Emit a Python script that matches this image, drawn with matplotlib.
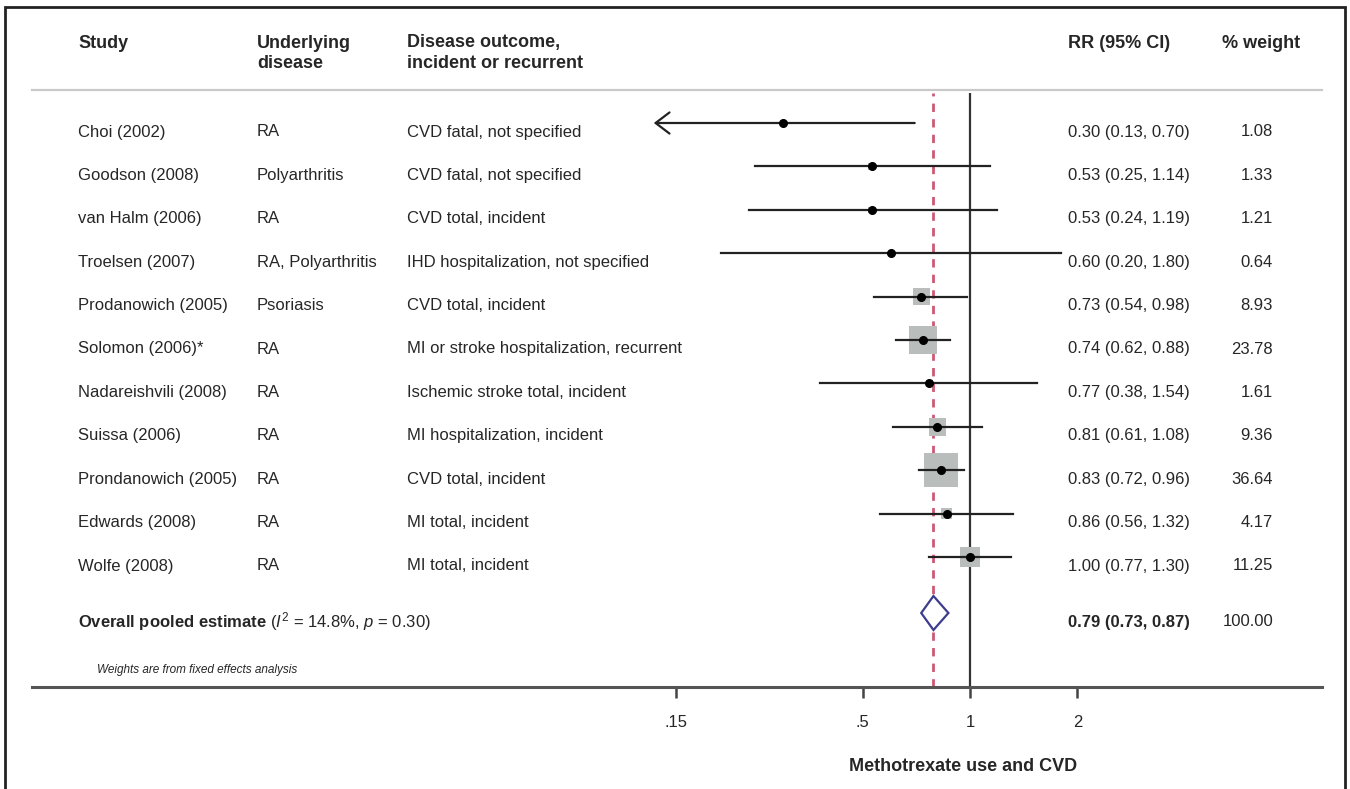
import numpy as np
import matplotlib
matplotlib.use("Agg")
import matplotlib.pyplot as plt
import matplotlib.transforms as mtrans
from matplotlib.patches import Rectangle

plt.rcParams['font.family'] = ['Liberation Sans', 'DejaVu Sans']
plt.rcParams['mathtext.fontset'] = 'custom'
plt.rcParams['mathtext.rm'] = 'Liberation Sans'
plt.rcParams['mathtext.it'] = 'Liberation Sans:italic'
plt.rcParams['mathtext.bf'] = 'Liberation Sans:bold'

# data
studies = ['Choi (2002)', 'Goodson (2008)', 'van Halm (2006)', 'Troelsen (2007)',
           'Prodanowich (2005)', 'Solomon (2006)*', 'Nadareishvili (2008)', 'Suissa (2006)',
           'Prondanowich (2005)', 'Edwards (2008)', 'Wolfe (2008)']
disease = ['RA', 'Polyarthritis', 'RA', 'RA, Polyarthritis', 'Psoriasis', 'RA', 'RA',
           'RA', 'RA', 'RA', 'RA']
outcome = ['CVD fatal, not specified', 'CVD fatal, not specified', 'CVD total, incident',
           'IHD hospitalization, not specified', 'CVD total, incident',
           'MI or stroke hospitalization, recurrent', 'Ischemic stroke total, incident',
           'MI hospitalization, incident', 'CVD total, incident', 'MI total, incident',
           'MI total, incident']
rr = np.array([0.30, 0.53, 0.53, 0.60, 0.73, 0.74, 0.77, 0.81, 0.83, 0.86, 1.00])
lo = np.array([0.13, 0.25, 0.24, 0.20, 0.54, 0.62, 0.38, 0.61, 0.72, 0.56, 0.77])
hi = np.array([0.70, 1.14, 1.19, 1.80, 0.98, 0.88, 1.54, 1.08, 0.96, 1.32, 1.30])
weight = np.array([1.08, 1.33, 1.21, 0.64, 8.93, 23.78, 1.61, 9.36, 36.64, 4.17, 11.25])

pooled = 0.79
pooled_lo = 0.73
pooled_hi = 0.87

xticks = [0.15, 0.5, 1, 2]
xticklabels = ['.15', '.5', '1', '2']
x_min = 0.14  # lower end of the plotted CI range, shown with an arrow

W, H = 1350, 789
fig = plt.figure(figsize=(W / 100, H / 100), dpi=100)

def fx(px):
    return px / W

def fy(py):
    return 1 - py / H

row_px = 43.4
first_px = 123
ax = fig.add_axes([fx(32), fy(687), fx(1322) - fx(32), (687 - 93) / H])
ax.set_xscale('log')
ln_left = (32 - 970) / 155.0
ln_right = (1322 - 970) / 155.0
ax.set_xlim(np.exp(ln_left), np.exp(ln_right))
ax.set_ylim((687 - first_px) / row_px, (93 - first_px) / row_px)

txt = '#262626'
rows = np.arange(len(studies))
pool_y = (613 - first_px) / row_px

# reference lines
ax.axvline(1, color='#333333', lw=1.6, zorder=1)
ax.axvline(pooled, color='#cc5a74', lw=2.0, ls=(0, (3, 2.6)), zorder=1)

# weight squares
side_pt = 5.7 * np.sqrt(weight) * 0.72
ax.scatter(rr, rows, s=side_pt ** 2, marker='s', color='#b9bebc', edgecolor='none', zorder=2)

# CIs
for i in rows:
    if lo[i] < x_min:
        ax.annotate('', xy=(lo[i], i), xytext=(hi[i], i),
                    arrowprops=dict(arrowstyle='->,head_length=0.5,head_width=0.38',
                                    lw=1.6, color='#222222', mutation_scale=20,
                                    shrinkA=0, shrinkB=0), zorder=3)
    else:
        ax.plot([lo[i], hi[i]], [i, i], color='#222222', lw=1.6, zorder=3)
ax.plot(rr, rows, 'o', color='black', ms=5.5, zorder=4)

# pooled diamond
dh = 17 / row_px
ax.fill([pooled_lo, pooled, pooled_hi, pooled], [pool_y, pool_y - dh, pool_y, pool_y + dh],
        facecolor='white', edgecolor='#3d3d8f', lw=1.6, zorder=4)

# axis styling
for s in ['top', 'left', 'right']:
    ax.spines[s].set_visible(False)
ax.spines['bottom'].set_color('#555555')
ax.spines['bottom'].set_linewidth(2.2)
ax.set_yticks([])
ax.set_xticks(xticks)
ax.set_xticklabels(xticklabels)
ax.xaxis.set_minor_locator(matplotlib.ticker.NullLocator())
ax.tick_params(axis='x', length=8, width=1.8, color='#444444', labelsize=12,
               labelcolor=txt, pad=12)
ax.set_xlabel('Methotrexate use and CVD', fontsize=13, fontweight='bold', color=txt,
              labelpad=22)
ax.xaxis.set_label_coords((fx(963) - fx(32)) / (fx(1322) - fx(32)), -(758 - 687) / (687 - 93))
ax.patch.set_alpha(0)

# header
hs = 13
fig.text(fx(78), fy(43), 'Study', fontsize=hs, fontweight='bold', color=txt, va='center')
fig.text(fx(257), fy(43), 'Underlying', fontsize=hs, fontweight='bold', color=txt, va='center')
fig.text(fx(257), fy(63), 'disease', fontsize=hs, fontweight='bold', color=txt, va='center')
fig.text(fx(407), fy(43), 'Disease outcome,', fontsize=hs, fontweight='bold', color=txt, va='center')
fig.text(fx(407), fy(63), 'incident or recurrent', fontsize=hs, fontweight='bold', color=txt,
         va='center')
fig.text(fx(1068), fy(43), 'RR (95% CI)', fontsize=hs, fontweight='bold', color=txt, va='center')
fig.text(fx(1222), fy(43), '% weight', fontsize=hs, fontweight='bold', color=txt, va='center')
fig.add_artist(plt.Line2D([fx(32), fx(1322)], [fy(90), fy(90)], color='#c9c9c9', lw=1.6))

# row text
tr = mtrans.blended_transform_factory(fig.transFigure, ax.transData)
off = 9 / row_px
fs = 12
for i in rows:
    ax.text(fx(78), i + off, studies[i], transform=tr, fontsize=fs, color=txt, va='center')
    ax.text(fx(257), i + off, disease[i], transform=tr, fontsize=fs, color=txt, va='center')
    ax.text(fx(407), i + off, outcome[i], transform=tr, fontsize=fs, color=txt, va='center')
    ax.text(fx(1068), i + off, f'{rr[i]:.2f} ({lo[i]:.2f}, {hi[i]:.2f})', transform=tr,
            fontsize=fs, color=txt, va='center')
    ax.text(fx(1273), i + off, f'{weight[i]:.2f}', transform=tr, fontsize=fs, color=txt,
            va='center', ha='right')

ax.text(fx(78), pool_y + off,
        r'$\mathbf{Overall\ pooled\ estimate}$ ($\mathit{I}^2$ = 14.8%, $\mathit{p}$ = 0.30)',
        transform=tr, fontsize=fs, color=txt, va='center')
ax.text(fx(1068), pool_y + off, f'{pooled:.2f} ({pooled_lo:.2f}, {pooled_hi:.2f})',
        transform=tr, fontsize=fs, fontweight='bold', color=txt, va='center')
ax.text(fx(1273), pool_y + off, f'{weight.sum():.2f}' if abs(weight.sum() - 100) < 0.5 else '100.00',
        transform=tr, fontsize=fs, color=txt, va='center', ha='right')
fig.text(fx(97), fy(670), 'Weights are from fixed effects analysis', fontsize=8.5,
         style='italic', color=txt, va='center')

# outer frame
fig.add_artist(Rectangle((fx(5), -0.05), fx(1345) - fx(5), fy(7) + 0.05, fill=False,
                         edgecolor='#222222', lw=2.0, transform=fig.transFigure))

fig.savefig('out.png', dpi=100)
